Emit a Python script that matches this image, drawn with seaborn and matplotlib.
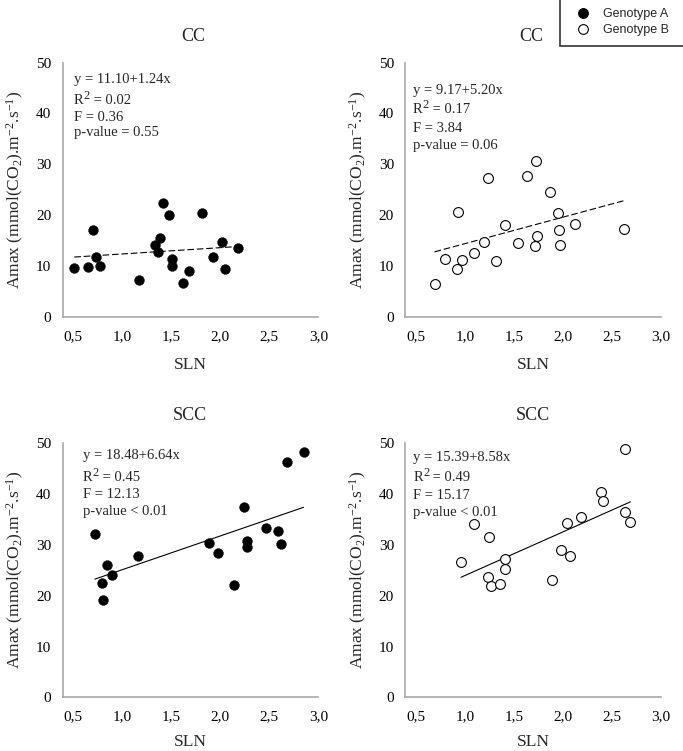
import numpy as np
import pandas as pd
import matplotlib
matplotlib.use('Agg')
import matplotlib.pyplot as plt
import seaborn as sns
from matplotlib.lines import Line2D

# ---------------- data ----------------
cc_a_sln = [0.51, 0.65, 0.70, 0.73, 0.77, 1.17, 1.33, 1.36, 1.38, 1.42, 1.48,
            1.51, 1.51, 1.62, 1.68, 1.81, 1.93, 2.02, 2.05, 2.18]
cc_a_amax = [9.5, 9.8, 17.1, 11.7, 9.9, 7.3, 14.1, 12.7, 15.4, 22.4, 20.1,
             11.4, 9.9, 6.6, 8.9, 20.3, 11.7, 14.7, 9.4, 13.5]
cc_b_sln = [0.69, 0.80, 0.92, 0.93, 0.97, 1.09, 1.20, 1.24, 1.32, 1.41, 1.54,
            1.63, 1.72, 1.73, 1.74, 1.87, 1.95, 1.96, 1.97, 2.12, 2.63]
cc_b_amax = [6.4, 11.3, 9.3, 20.5, 11.1, 12.5, 14.7, 27.3, 11.0, 18.1, 14.4,
             27.7, 14.0, 30.6, 15.9, 24.5, 20.3, 17.0, 14.2, 18.3, 17.2]
scc_a_sln = [0.72, 0.79, 0.80, 0.84, 0.90, 1.16, 1.88, 1.98, 2.14, 2.24, 2.27,
             2.27, 2.47, 2.59, 2.62, 2.68, 2.85]
scc_a_amax = [32.2, 22.5, 19.1, 26.1, 24.1, 27.9, 30.3, 28.5, 22.2, 37.5, 30.8,
              29.6, 33.4, 32.8, 30.1, 46.3, 48.2]
scc_b_sln = [0.96, 1.09, 1.24, 1.25, 1.27, 1.36, 1.41, 1.41, 1.89, 1.98, 2.04,
             2.07, 2.19, 2.39, 2.41, 2.64, 2.64, 2.69]
scc_b_amax = [26.6, 34.1, 23.6, 31.5, 22.0, 22.4, 27.2, 25.3, 23.1, 28.9, 34.4,
              27.8, 35.4, 40.4, 38.7, 48.9, 36.5, 34.5]

titles = ["CC", "CC", "SCC", "SCC"]
genotypes = ["Genotype A", "Genotype B", "Genotype A", "Genotype B"]
intercepts = [11.10, 9.17, 18.48, 15.39]
slopes = [1.24, 5.20, 6.64, 8.58]
r2_vals = ["0.02", "0.17", "0.45", "0.49"]
f_vals = ["0.36", "3.84", "12.13", "15.17"]
p_vals = ["= 0.55", "= 0.06", "< 0.01", "< 0.01"]
x_ticks = [0.5, 1.0, 1.5, 2.0, 2.5, 3.0]
x_tick_labels = ["0,5", "1,0", "1,5", "2,0", "2,5", "3,0"]
y_ticks = [0, 10, 20, 30, 40, 50]

sets = [(cc_a_sln, cc_a_amax), (cc_b_sln, cc_b_amax),
        (scc_a_sln, scc_a_amax), (scc_b_sln, scc_b_amax)]

# ---------------- style ----------------
sns.set_style("white")
plt.rcParams['font.family'] = ['Liberation Serif', 'DejaVu Serif']
plt.rcParams['mathtext.fontset'] = 'custom'
plt.rcParams['mathtext.rm'] = 'Liberation Serif'
plt.rcParams['mathtext.it'] = 'Liberation Serif'
plt.rcParams['mathtext.default'] = 'regular'

W, H = 683, 751
fig = plt.figure(figsize=(W / 100, H / 100), dpi=100)

# axes placement in pixels: (left, top, width, height)
rects_px = [(62.5, 62.5, 255.8, 254.2), (405.2, 62.5, 255.5, 254.2),
            (62.5, 443.3, 255.8, 254.0), (405.2, 443.3, 255.5, 254.0)]
title_x = [0.51, 0.495, 0.498, 0.50]
title_pad = [15.6, 15.6, 17.0, 17.0]
xlabel_y = [-0.16, -0.16, -0.145, -0.145]
# annotation positions (px): x start, baselines of 4 lines
ann_x = [74, 413, 82.7, 413.3]
ann_base = [[83.5, 104.5, 121.0, 136.3],
            [93.8, 113.0, 131.8, 149.2],
            [459.3, 481.2, 498.1, 514.8],
            [460.8, 481.2, 498.8, 515.8]]
line_styles = [(0, (6, 2.5)), (0, (6, 2.5)), '-', '-']

filled = {"Genotype A": True, "Genotype B": False}
FS = 10.5
px_per_pt = 100 / 72.0

for i in range(4):
    l, t, w, h = rects_px[i]
    ax = fig.add_axes([l / W, 1 - (t + h) / H, w / W, h / H])
    xs, ys = sets[i]
    df = pd.DataFrame({"SLN": xs, "Amax": ys})
    is_filled = filled[genotypes[i]]
    sns.scatterplot(data=df, x="SLN", y="Amax", ax=ax, s=50,
                    color="black" if is_filled else "white",
                    edgecolor="black", linewidth=0.8 if not is_filled else 0.3,
                    zorder=3)
    xr = np.array([min(xs), max(xs)])
    ax.plot(xr, intercepts[i] + slopes[i] * xr, color="black", lw=0.8,
            linestyle=line_styles[i], zorder=2)

    ax.set_xlim(0.39, 3.0)
    ax.set_ylim(0, 50)
    ax.set_xticks(x_ticks)
    ax.set_xticklabels(x_tick_labels)
    ax.set_yticks(y_ticks)
    ax.tick_params(axis='both', direction='out', length=3, width=0.8,
                   color='#555555', labelsize=11, labelcolor='black')
    ax.tick_params(axis='x', pad=6.5)
    ax.tick_params(axis='y', pad=5)
    for sp in ['top', 'right']:
        ax.spines[sp].set_visible(False)
    for sp in ['left', 'bottom']:
        ax.spines[sp].set_color('#a8a8a8')
        ax.spines[sp].set_linewidth(1.2)

    ax.set_title(titles[i], fontsize=13, x=title_x[i], pad=title_pad[i])
    ax.set_xlabel("SLN", fontsize=12.5)
    ax.xaxis.set_label_coords(0.5, xlabel_y[i])
    ax.set_ylabel(r"Amax (mmol(CO$_2$).m$^{-2}$.s$^{-1}$)", fontsize=12.5)
    ax.yaxis.set_label_coords(-0.143, 0.5)

    x0 = ann_x[i]
    b = ann_base[i]
    fig.text(x0 / W, 1 - b[0] / H, f"y = {intercepts[i]:.2f}+{slopes[i]:.2f}x",
             fontsize=FS, ha='left', va='baseline')
    # R^2 line with a large superscript
    r_w = 0.667 * FS * px_per_pt
    fig.text(x0 / W, 1 - b[1] / H, "R", fontsize=FS, ha='left', va='baseline')
    fig.text((x0 + r_w) / W, 1 - (b[1] - 5.5) / H, "2", fontsize=FS * 0.85,
             ha='left', va='baseline')
    two_w = 0.5 * FS * 0.85 * px_per_pt
    fig.text((x0 + r_w + two_w) / W, 1 - b[1] / H, " = " + r2_vals[i],
             fontsize=FS, ha='left', va='baseline')
    fig.text(x0 / W, 1 - b[2] / H, "F = " + f_vals[i], fontsize=FS,
             ha='left', va='baseline')
    fig.text(x0 / W, 1 - b[3] / H, "p-value " + p_vals[i], fontsize=FS,
             ha='left', va='baseline')

# legend
handles = [Line2D([], [], linestyle='none', marker='o', markersize=7,
                  markerfacecolor='black', markeredgecolor='black',
                  markeredgewidth=0.8),
           Line2D([], [], linestyle='none', marker='o', markersize=7,
                  markerfacecolor='white', markeredgecolor='black',
                  markeredgewidth=0.8)]
leg = fig.legend(handles, ["Genotype A   ", "Genotype B   "], loc='upper left',
                 bbox_to_anchor=(560 / W, 1.002), frameon=True, fancybox=False,
                 prop={'family': 'Liberation Sans', 'size': 9},
                 borderpad=0.8, handlelength=2.0, handletextpad=0.65,
                 labelspacing=0.3, borderaxespad=0)
leg.get_frame().set_edgecolor('black')
leg.get_frame().set_linewidth(1.2)

fig.savefig("out.png", dpi=100, facecolor='white')
